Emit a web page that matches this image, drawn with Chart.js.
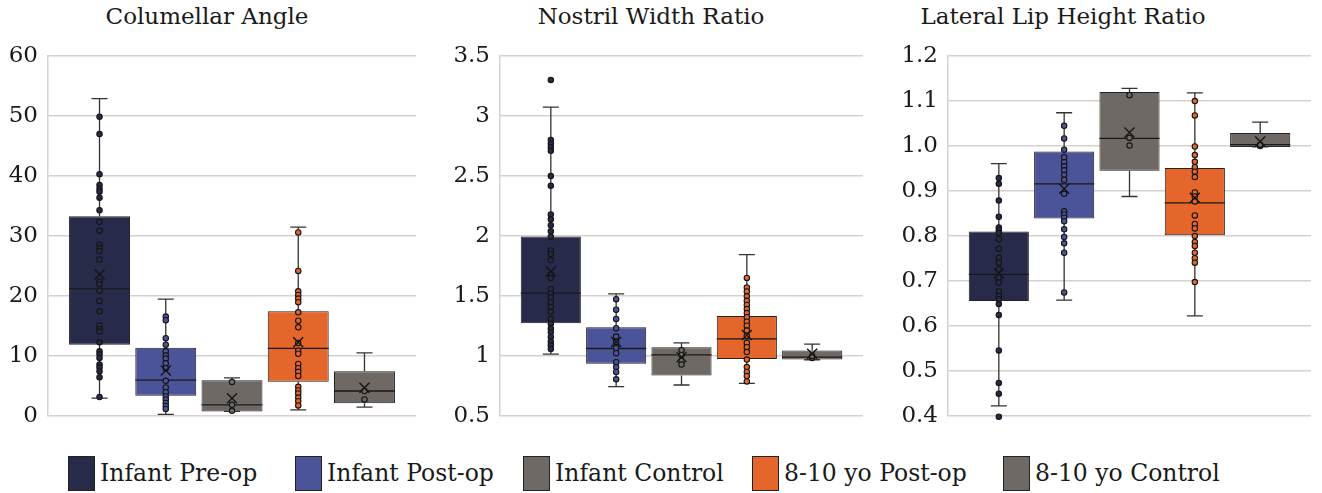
<!DOCTYPE html>
<html>
<head>
<meta charset="utf-8">
<script src="https://cdn.jsdelivr.net/npm/chart.js@4.4.1/dist/chart.umd.min.js"></script>
<style>
  body { margin: 0; background: #fff; }
  #page { position: relative; width: 1322px; height: 493px; font-family: "DejaVu Serif", serif; color: #1a1a1a; }
  .panel { position: absolute; top: 0; height: 440px; }
  .titre { position: absolute; top: 3px; font-size: 23px; white-space: nowrap; transform: translateX(-50%); }
  .leg { position: absolute; top: 455px; height: 36px; display: flex; align-items: center; font-size: 23.5px; white-space: nowrap; }
  .leg span.carre { display: inline-block; width: 25px; height: 33px; border: 1.5px solid #222; margin-right: 5px; }
</style>
</head>
<body>
<div id="page">
  <div class="titre" style="left:207px">Columellar Angle</div>
  <div class="titre" style="left:651px">Nostril Width Ratio</div>
  <div class="titre" style="left:1063px">Lateral Lip Height Ratio</div>
  <div class="panel" style="left:0;width:440px"><canvas id="c1"></canvas></div>
  <div class="panel" style="left:440px;width:440px"><canvas id="c2"></canvas></div>
  <div class="panel" style="left:880px;width:442px"><canvas id="c3"></canvas></div>
  <div id="legende"></div>
</div>
<script>
// ==== données ====
const groupes = ['Infant Pre-op', 'Infant Post-op', 'Infant Control', '8-10 yo Post-op', '8-10 yo Control'];
const couleurs = ['#272a48', '#4b5499', '#6e6964', '#e4662b', '#6e6964'];

// Columellar Angle
const angleMin    = [3.0, 0.3, 0.8, 1.05, 1.5];
const angleQ1     = [11.9, 3.4, 0.8, 5.75, 2.15];
const angleMedian = [21.2, 6.0, 1.9, 11.3, 4.2];
const angleQ3     = [33.3, 11.4, 6.0, 17.5, 7.5];
const angleMax    = [52.9, 19.5, 6.4, 31.5, 10.55];
const angleMean   = [23.6, 7.6, 3.0, 12.3, 4.75];
const anglePoints = [
  [49.9, 47.0, 40.3, 38.5, 37.9, 37.4, 36.4, 34.3, 32.4, 30.9, 28.6, 28.0, 27.5, 26.1, 22.4, 22.0, 20.9, 19.2, 17.5, 15.1, 14.5, 14.1, 12.3, 10.8, 10.3, 9.7, 8.6, 8.1, 7.5, 6.5, 3.2],
  [16.6, 16.0, 13.0, 11.9, 10.8, 10.1, 9.6, 8.8, 8.0, 5.9, 4.8, 4.0, 3.3, 2.8, 2.2, 1.7, 1.2],
  [5.7, 1.9, 0.9],
  [30.6, 24.2, 20.8, 20.2, 19.6, 19.0, 17.3, 15.9, 14.8, 12.2, 10.9, 10.4, 8.7, 8.0, 7.4, 6.7, 4.9, 4.3, 3.8, 3.1, 2.5, 1.8],
  [4.2, 2.8]
];

// Nostril Width Ratio
const nostrilMin    = [1.017, 0.746, 0.76, 0.773, 0.97];
const nostrilQ1     = [1.274, 0.937, 0.84, 0.976, 0.972];
const nostrilMedian = [1.525, 1.064, 1.011, 1.144, 0.992];
const nostrilQ3     = [1.997, 1.241, 1.075, 1.335, 1.047];
const nostrilMax    = [3.075, 1.519, 1.111, 1.846, 1.10];
const nostrilMean   = [1.705, 1.117, 0.992, 1.177, 1.02];
const nostrilPoints = [
  [3.30, 2.80, 2.77, 2.74, 2.71, 2.50, 2.42, 2.18, 2.14, 2.09, 2.04, 1.995, 1.88, 1.85, 1.80, 1.68, 1.65, 1.56, 1.52, 1.49, 1.45, 1.41, 1.37, 1.31, 1.27, 1.23, 1.20, 1.16, 1.12, 1.09, 1.06],
  [1.475, 1.387, 1.31, 1.233, 1.163, 1.117, 1.067, 1.025, 0.95, 0.909, 0.868, 0.807],
  [1.05, 1.01, 0.96, 0.93],
  [1.652, 1.572, 1.539, 1.498, 1.461, 1.426, 1.392, 1.359, 1.324, 1.287, 1.254, 1.213, 1.171, 1.111, 1.075, 1.034, 0.972, 0.909, 0.868, 0.835, 0.79],
  [0.985, 1.0]
];

// Lateral Lip Height Ratio
const lipMin    = [0.423, 0.658, 0.888, 0.623, 0.998];
const lipQ1     = [0.656, 0.839, 0.945, 0.802, 0.998];
const lipMedian = [0.715, 0.916, 1.017, 0.874, 1.003];
const lipQ3     = [0.810, 0.988, 1.120, 0.951, 1.029];
const lipMax    = [0.961, 1.074, 1.128, 1.118, 1.053];
const lipMean   = [0.717, 0.905, 1.030, 0.885, 1.010];
const lipPoints = [
  [0.929, 0.916, 0.879, 0.843, 0.819, 0.813, 0.807, 0.793, 0.772, 0.752, 0.741, 0.726, 0.708, 0.697, 0.677, 0.667, 0.660, 0.649, 0.625, 0.546, 0.474, 0.450, 0.399],
  [1.045, 1.017, 0.992, 0.975, 0.964, 0.955, 0.946, 0.936, 0.925, 0.894, 0.855, 0.848, 0.841, 0.833, 0.815, 0.798, 0.784, 0.763, 0.675],
  [1.113, 1.018, 1.001],
  [1.100, 1.068, 0.999, 0.980, 0.965, 0.953, 0.943, 0.931, 0.897, 0.888, 0.877, 0.846, 0.827, 0.817, 0.800, 0.787, 0.778, 0.763, 0.751, 0.741, 0.698],
  [1.0, 1.003]
];

// ==== plugin : moustaches, médiane, moyenne et points ====
const boiteMoustache = {
  id: 'boiteMoustache',
  afterDatasetsDraw(chart) {
    const { ctx, scales: { y } } = chart;
    const st = chart.options.plugins.boiteMoustache;
    ctx.save();
    chart.data.datasets.forEach((ds, i) => {
      const bar = chart.getDatasetMeta(i).data[0];
      const cx = bar.x, demi = bar.width / 2;
      ctx.strokeStyle = '#333';
      ctx.lineWidth = 1.3;
      // moustaches
      ctx.beginPath();
      ctx.moveTo(cx, y.getPixelForValue(st.q3[i]));
      ctx.lineTo(cx, y.getPixelForValue(st.max[i]));
      ctx.moveTo(cx - 8, y.getPixelForValue(st.max[i]));
      ctx.lineTo(cx + 8, y.getPixelForValue(st.max[i]));
      ctx.moveTo(cx, y.getPixelForValue(st.q1[i]));
      ctx.lineTo(cx, y.getPixelForValue(st.min[i]));
      ctx.moveTo(cx - 8, y.getPixelForValue(st.min[i]));
      ctx.lineTo(cx + 8, y.getPixelForValue(st.min[i]));
      ctx.stroke();
      // médiane
      ctx.strokeStyle = '#1a1a1a';
      ctx.beginPath();
      ctx.moveTo(cx - demi, y.getPixelForValue(st.median[i]));
      ctx.lineTo(cx + demi, y.getPixelForValue(st.median[i]));
      ctx.stroke();
      // points
      ctx.lineWidth = 1.1;
      st.points[i].forEach(v => {
        ctx.beginPath();
        ctx.arc(cx, y.getPixelForValue(v), 2.7, 0, Math.PI * 2);
        ctx.fillStyle = ds.backgroundColor;
        ctx.fill();
        ctx.strokeStyle = '#151515';
        ctx.stroke();
      });
      // moyenne (croix)
      const my = y.getPixelForValue(st.mean[i]);
      ctx.strokeStyle = '#151515';
      ctx.lineWidth = 1.4;
      ctx.beginPath();
      ctx.moveTo(cx - 5, my - 5); ctx.lineTo(cx + 5, my + 5);
      ctx.moveTo(cx + 5, my - 5); ctx.lineTo(cx - 5, my + 5);
      ctx.stroke();
    });
    ctx.restore();
  }
};

function creerBoite(id, stats, yMin, yMax, pas, largeurAxe, droite, fmt) {
  return new Chart(document.getElementById(id), {
    type: 'bar',
    data: {
      labels: [''],
      datasets: groupes.map((g, i) => ({
        label: g,
        data: [[stats.q1[i], stats.q3[i]]],
        backgroundColor: couleurs[i],
        borderColor: '#222',
        borderWidth: 1,
        borderSkipped: false,
        categoryPercentage: 0.9,
        barPercentage: 0.92
      }))
    },
    options: {
      responsive: true,
      maintainAspectRatio: false,
      animation: false,
      layout: { padding: { top: 56, bottom: 22, left: 0, right: droite } },
      scales: {
        x: { display: false },
        y: {
          min: yMin, max: yMax,
          afterFit(scale) { scale.width = largeurAxe; },
          ticks: {
            stepSize: pas,
            padding: 10,
            color: '#1a1a1a',
            font: { family: 'DejaVu Serif', size: 23 },
            callback: fmt
          },
          grid: { color: '#d8d0d0', lineWidth: 1.5, drawTicks: false },
          border: { display: true, color: '#d8d0d0', width: 1.5 }
        }
      },
      plugins: {
        legend: { display: false },
        tooltip: { enabled: false },
        boiteMoustache: stats
      }
    },
    plugins: [boiteMoustache]
  });
}

creerBoite('c1', { min: angleMin, q1: angleQ1, median: angleMedian, q3: angleQ3, max: angleMax, mean: angleMean, points: anglePoints },
  0, 60, 10, 48, 24, v => v);
creerBoite('c2', { min: nostrilMin, q1: nostrilQ1, median: nostrilMedian, q3: nostrilQ3, max: nostrilMax, mean: nostrilMean, points: nostrilPoints },
  0.5, 3.5, 0.5, 60, 17, v => +v.toFixed(1));
creerBoite('c3', { min: lipMin, q1: lipQ1, median: lipMedian, q3: lipQ3, max: lipMax, mean: lipMean, points: lipPoints },
  0.4, 1.2, 0.1, 68, 11, v => v.toFixed(1));

// légende commune
const posLegende = [68, 295, 523, 752, 1003];
const leg = document.getElementById('legende');
groupes.forEach((g, i) => {
  const d = document.createElement('div');
  d.className = 'leg';
  d.style.left = posLegende[i] + 'px';
  d.innerHTML = '<span class="carre" style="background:' + couleurs[i] + '"></span>' + g;
  leg.appendChild(d);
});
</script>
</body>
</html>
